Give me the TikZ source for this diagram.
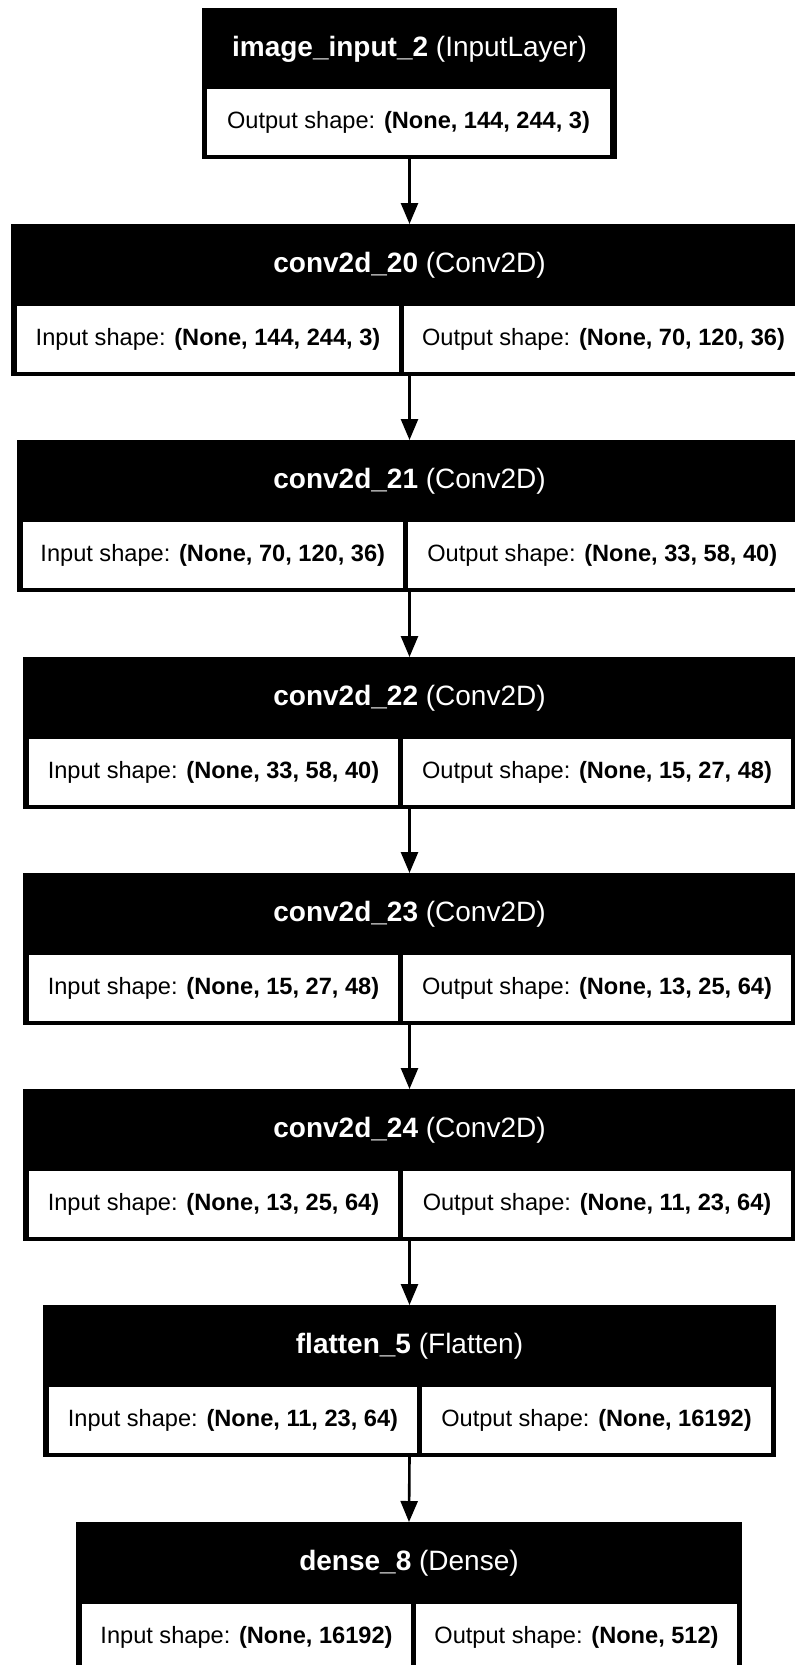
\documentclass[tikz,border=0pt]{standalone}
\usepackage{fontspec}
\setmainfont{Liberation Sans}
\usetikzlibrary{arrows.meta}
\tikzset{
  outerbox/.style={fill=black, draw=none, inner sep=0pt, outer sep=0pt, rectangle},
  titletext/.style={text=white, font=\fontsize{28}{34}\selectfont, inner sep=0pt},
  celltext/.style={text=black, font=\fontsize{23.6}{28}\selectfont, inner sep=0pt},
  cellfill/.style={fill=white},
  arr/.style={line width=2.6pt, -{Triangle[length=21pt,width=17pt]}},
}
\newcommand{\mklayer}[9]{%
  \node[outerbox, minimum width={(#3-#2)*1pt}, minimum height=152pt] (#1) at ({(#2+#3)/2},{#4+76}) {};
  \fill[cellfill] ({#2+6},{#4+82}) rectangle ({#5-2.5},{#4+148});
  \fill[cellfill] ({#5+2.5},{#4+82}) rectangle ({#3-5},{#4+148});
  \node[titletext] (#1-title) at ({(#2+#3)/2},{#4+41}) {\textbf{#6} #7};
  \node[celltext] (#1-in) at ({(#2+6+#5-2.5)/2},{#4+115}) {Input shape: \textbf{#8}};
  \node[celltext] (#1-out) at ({(#5+2.5+#3-5)/2},{#4+115}) {Output shape: \textbf{#9}};
}
\begin{document}
\begin{tikzpicture}[x=1pt,y=-1pt]
\useasboundingbox (0,0) rectangle (795,1665);
\fill[white] (0,0) rectangle (795,1665);
% image input layer
\node[outerbox, minimum width=415pt, minimum height=151pt] (img) at (409.5,83.5) {};
\fill[cellfill] (207,89) rectangle (610,155);
\node[titletext] (img-title) at (409.5,49) {\textbf{image\_input\_2} (InputLayer)};
\node[celltext] (img-out) at (408.5,122) {Output shape: \textbf{(None, 144, 244, 3)}};
% layers
\mklayer{c20}{11}{808}{224}{401.5}{conv2d\_20}{(Conv2D)}{(None, 144, 244, 3)}{(None, 70, 120, 36)}
\mklayer{c21}{17}{802}{440}{405}{conv2d\_21}{(Conv2D)}{(None, 70, 120, 36)}{(None, 33, 58, 40)}
\mklayer{c22}{23}{796}{657}{400.5}{conv2d\_22}{(Conv2D)}{(None, 33, 58, 40)}{(None, 15, 27, 48)}
\mklayer{c23}{23}{796}{873}{400.5}{conv2d\_23}{(Conv2D)}{(None, 15, 27, 48)}{(None, 13, 25, 64)}
\mklayer{c24}{23}{796}{1089}{400.5}{conv2d\_24}{(Conv2D)}{(None, 13, 25, 64)}{(None, 11, 23, 64)}
\mklayer{fl}{43}{776}{1305}{419.5}{flatten\_5}{(Flatten)}{(None, 11, 23, 64)}{(None, 16192)}
\mklayer{de}{76}{742}{1522}{413.5}{dense\_8}{(Dense)}{(None, 16192)}{(None, 512)}
% connectors
\draw[arr] (img.south) -- (c20.north);
\draw[arr] (c20.south) -- (c21.north);
\draw[arr] (c21.south) -- (c22.north);
\draw[arr] (c22.south) -- (c23.north);
\draw[arr] (c23.south) -- (c24.north);
\draw[arr] (c24.south) -- (fl.north);
\draw[arr] (fl.south) -- (de.north);
\end{tikzpicture}
\end{document}
